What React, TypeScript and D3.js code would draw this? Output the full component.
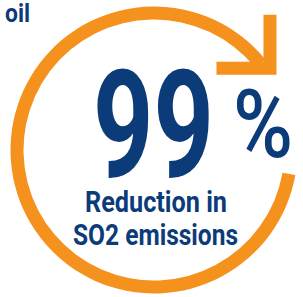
import React, { useEffect, useRef } from "react";
import * as d3 from "d3";

// infographic values
const headline = ["oil"];
const percentValue = [99];
const percentSign = ["%"];
const captionLines = ["Reduction in", "SO2 emissions"];
// ring: where the arrow starts and ends (degrees clockwise from 12 o'clock)
const ringDegrees = [100, 411];

const width = 303;
const height = 297;
const navy = "#0c3b7a";
const orange = "#f5921e";

const App = () => {
  const ref = useRef<SVGSVGElement | null>(null);

  function drawRing() {
    const svg = d3.select(ref.current);
    svg.selectAll("*").remove();

    const cx = 154;
    const cy = 150;
    const outer = 143.5;
    const thick = 13;

    const angle = d3
      .scaleLinear()
      .domain([0, 360])
      .range([0, 2 * Math.PI]);

    const arc = d3
      .arc()
      .innerRadius(outer - thick)
      .outerRadius(outer);

    const g = svg.append("g").attr("transform", `translate(${cx},${cy})`);

    g.append("path")
      .attr("fill", orange)
      .attr("d", arc({ startAngle: angle(ringDegrees[0]), endAngle: angle(ringDegrees[1]) } as any));

    // arrow head (L shape) at the end of the ring
    const a = angle(ringDegrees[1]);
    const mid = outer - thick / 2;
    const ex = mid * Math.sin(a);
    const ey = -mid * Math.cos(a);
    const armLen = 60;
    const w = 13;
    const kx = ex + 16; // outer corner
    const ky = ey + 11;
    const l = d3.path();
    l.moveTo(kx, ky);
    l.lineTo(kx - armLen, ky);
    l.lineTo(kx - armLen, ky - w);
    l.lineTo(kx - w, ky - w);
    l.lineTo(kx - w, ky - armLen);
    l.lineTo(kx, ky - armLen);
    l.closePath();
    g.append("path").attr("fill", orange).attr("d", l.toString());

    // texts
    svg
      .append("text")
      .attr("x", 5)
      .attr("y", 22)
      .attr("font-family", "Roboto, sans-serif")
      .attr("font-weight", 700)
      .attr("font-size", 26)
      .attr("fill", navy)
      .attr("textLength", 25)
      .attr("lengthAdjust", "spacingAndGlyphs")
      .text(headline[0]);

    svg
      .append("text")
      .attr("x", 93)
      .attr("y", 177)
      .attr("font-family", "Roboto, sans-serif")
      .attr("font-weight", 700)
      .attr("font-size", 150)
      .attr("fill", navy)
      .attr("textLength", 121)
      .attr("lengthAdjust", "spacingAndGlyphs")
      .text(String(percentValue[0]));

    svg
      .append("text")
      .attr("x", 233)
      .attr("y", 157)
      .attr("font-family", "Roboto, sans-serif")
      .attr("font-weight", 500)
      .attr("font-size", 94)
      .attr("fill", navy)
      .attr("textLength", 60)
      .attr("lengthAdjust", "spacingAndGlyphs")
      .text(percentSign[0]);

    const lines = [
      { x: 85, y: 212, len: 142 },
      { x: 73, y: 245, len: 165 },
    ];
    svg
      .append("g")
      .selectAll("text")
      .data(captionLines)
      .join("text")
      .attr("x", (d, i) => lines[i].x)
      .attr("y", (d, i) => lines[i].y)
      .attr("font-family", "Roboto, sans-serif")
      .attr("font-weight", 700)
      .attr("font-size", 29.5)
      .attr("fill", navy)
      .attr("textLength", (d, i) => lines[i].len)
      .attr("lengthAdjust", "spacingAndGlyphs")
      .text((d) => d);
  }

  useEffect(() => {
    drawRing();
  }, []);

  return (
    <svg
      ref={ref}
      width={width}
      height={height}
      style={{ position: "absolute", left: 0, top: 0, background: "#fff" }}
    ></svg>
  );
};

export default App;
